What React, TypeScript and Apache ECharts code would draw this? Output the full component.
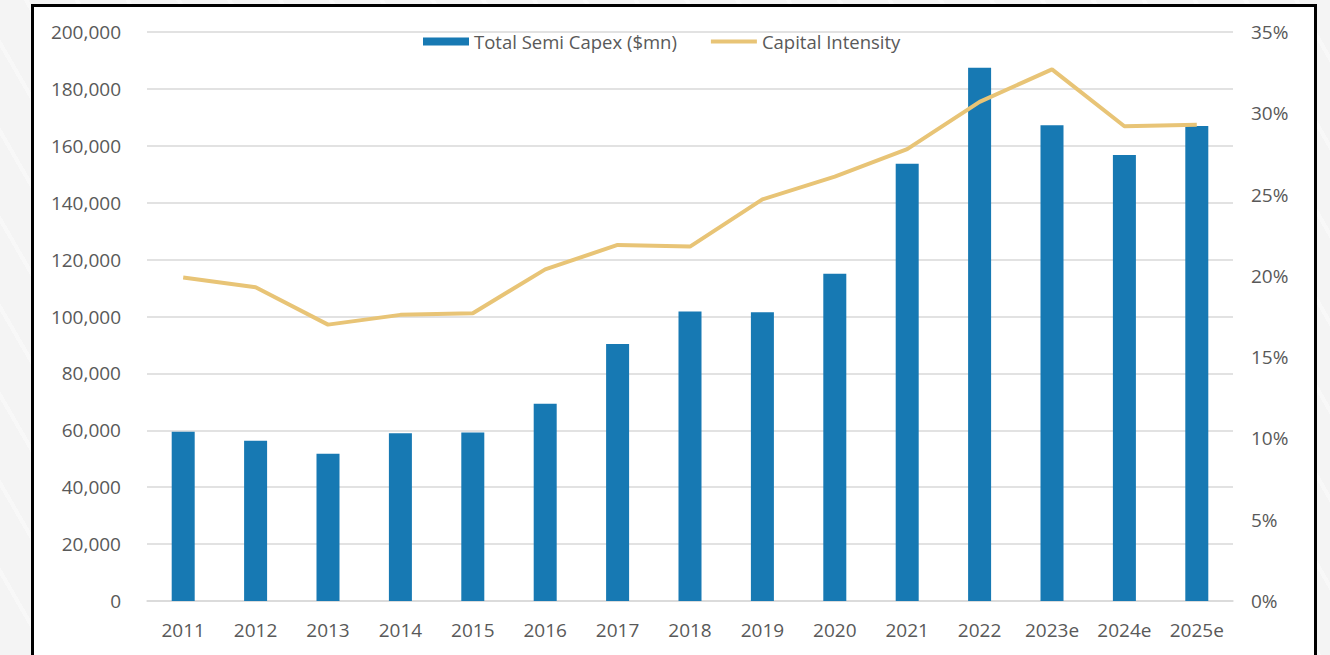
import React, { useEffect, useRef } from "react";
import * as echarts from "echarts";

const categories = ["2011", "2012", "2013", "2014", "2015", "2016", "2017", "2018", "2019", "2020", "2021", "2022", "2023e", "2024e", "2025e"];
const capex = [59500, 56300, 51800, 59000, 59200, 69300, 90300, 101800, 101500, 115000, 153700, 187400, 167200, 156800, 167000];
const intensity = [19.9, 19.3, 17.0, 17.6, 17.7, 20.4, 21.9, 21.8, 24.7, 26.1, 27.8, 30.7, 32.7, 29.2, 29.3];
const leftTicks = { min: 0, max: 200000, interval: 20000 };
const rightTicks = { min: 0, max: 35, interval: 5 };

const FONT = "'Open Sans', 'Noto Sans', sans-serif";
const LABEL = "#595959";
const GRID = "#d9d9d9";
const BAR = "#1779b3";
const LINE = "#e8c476";

export default function App() {
  const ref = useRef<HTMLDivElement>(null);
  useEffect(() => {
    if (!ref.current) return;
    const chart = echarts.init(ref.current, null, { renderer: "svg" });
    chart.setOption({
      animation: false,
      backgroundColor: "transparent",
      textStyle: { fontFamily: FONT },
      legend: {
        top: 27,
        left: 418,
        itemWidth: 46,
        itemHeight: 8,
        itemGap: 34,
        textStyle: { color: LABEL, fontSize: 18.5, fontFamily: FONT },
        data: [
          { name: "Total Semi Capex ($mn)", icon: "rect" },
          {
            name: "Capital Intensity",
            icon: "path://M0,0 L48,0 L48,4 L0,4 Z",
            itemStyle: { color: LINE, borderWidth: 0 },
            lineStyle: { width: 0 },
          },
        ],
      },
      grid: { left: 147, right: 97, top: 32, bottom: 54, containLabel: false },
      xAxis: {
        type: "category",
        data: categories,
        axisLine: { show: true, lineStyle: { color: GRID, width: 1.5 } },
        axisTick: { show: false },
        axisLabel: { color: LABEL, fontSize: 19, margin: 19, fontFamily: FONT },
      },
      yAxis: [
        {
          type: "value",
          min: leftTicks.min,
          max: leftTicks.max,
          interval: leftTicks.interval,
          axisLine: { show: false },
          axisTick: { show: false },
          splitLine: { lineStyle: { color: GRID, width: 1.5 } },
          axisLabel: {
            color: LABEL,
            fontSize: 19,
            margin: 26,
            fontFamily: FONT,
            formatter: (v: number) => v.toLocaleString("en-US"),
          },
        },
        {
          type: "value",
          min: rightTicks.min,
          max: rightTicks.max,
          interval: rightTicks.interval,
          axisLine: { show: false },
          axisTick: { show: false },
          splitLine: { show: false },
          axisLabel: {
            color: LABEL,
            fontSize: 19,
            margin: 18,
            fontFamily: FONT,
            formatter: "{value}%",
          },
        },
      ],
      series: [
        {
          name: "Total Semi Capex ($mn)",
          type: "bar",
          data: capex,
          barWidth: 23,
          itemStyle: { color: BAR },
          yAxisIndex: 0,
        },
        {
          name: "Capital Intensity",
          type: "line",
          data: intensity,
          yAxisIndex: 1,
          symbol: "none",
          lineStyle: { color: LINE, width: 4 },
          itemStyle: { color: LINE },
        },
      ],
    });
    return () => chart.dispose();
  }, []);

  return (
    <div
      style={{
        position: "fixed",
        left: 0,
        top: 0,
        width: 1330,
        height: 655,
        overflow: "hidden",
        background:
          "repeating-linear-gradient(60deg, #f4f4f4 0px, #f4f4f4 40px, #f8f8f8 40px, #f8f8f8 44px)",
      }}
    >
      <div
        style={{
          position: "absolute",
          left: 31,
          top: 4,
          width: 1280,
          height: 700,
          border: "3px solid #000",
          background: "#fff",
        }}
      />
      <div ref={ref} style={{ position: "absolute", left: 0, top: 0, width: 1330, height: 655 }} />
    </div>
  );
}
